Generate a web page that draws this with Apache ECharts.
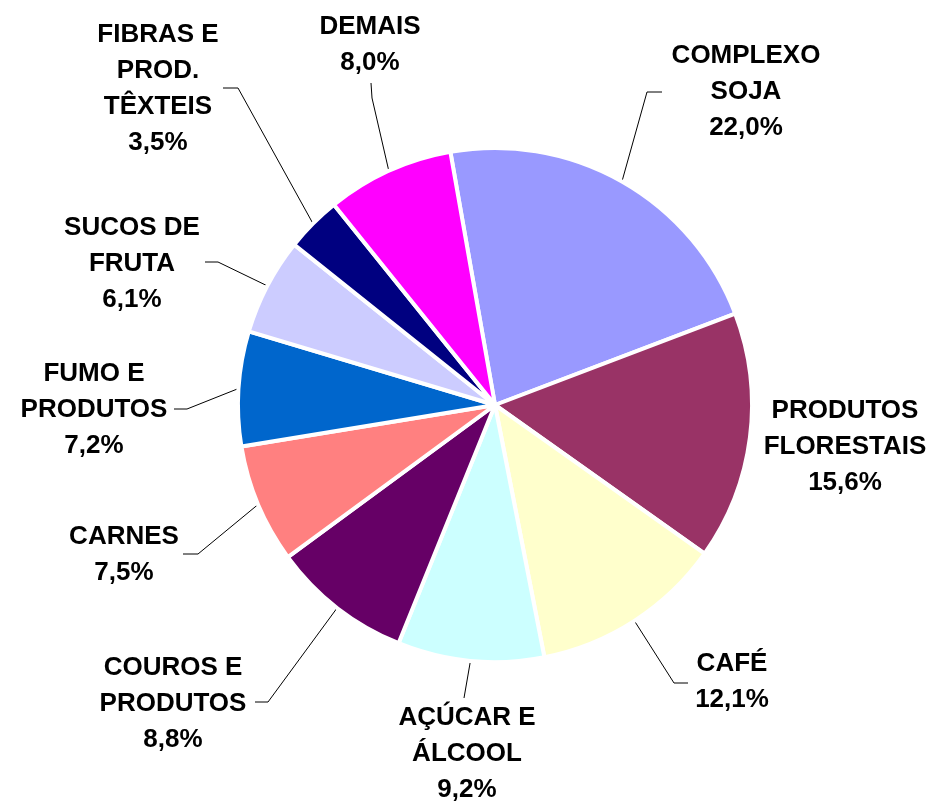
<!DOCTYPE html>
<html><head><meta charset="utf-8">
<script src="https://cdn.jsdelivr.net/npm/echarts@6/dist/echarts.min.js"></script>
<style>html,body{margin:0;padding:0;background:#fff}#c{width:932px;height:803px}</style>
</head><body><div id="c"></div>
<script>
// ---- data ----
const categories = ['COMPLEXO\nSOJA','PRODUTOS\nFLORESTAIS','CAFÉ','AÇÚCAR E\nÁLCOOL','COUROS E\nPRODUTOS','CARNES','FUMO E\nPRODUTOS','SUCOS DE\nFRUTA','FIBRAS E\nPROD.\nTÊXTEIS','DEMAIS'];
const values = [22.0, 15.6, 12.1, 9.2, 8.8, 7.5, 7.2, 6.1, 3.5, 8.0];
// ---- styles / layout (not data) ----
const colors = ['#9999FF','#993366','#FFFFCC','#CCFFFF','#660066','#FF8080','#0066CC','#CCCCFF','#000080','#FF00FF'];
const labelCenters = [[746,92],[845,447],[732,682],[467,754],[173,704],[124,555],[94,410],[132,264],[158,89],[370,45]];
const leaderPaths = [
  [[647,92],[662,92]], null, [[674,683],[688,683]], [[464,698]],
  [[268,702],[255,702]], [[198,554],[183,554]], [[187,409],[174,409]],
  [[218,262],[205,262]], [[238,88],[223,88]], [[372,98],[371,83]]
];

const chart = echarts.init(document.getElementById('c'));
const seriesData = categories.map((name, i) => {
  const d = { name: name, value: values[i], itemStyle: { color: colors[i] } };
  if (!leaderPaths[i]) d.labelLine = { show: false };
  return d;
});
chart.setOption({
  animation: false,
  backgroundColor: '#fff',
  series: [{
    type: 'pie',
    center: [495, 405],
    radius: 257,
    startAngle: 100,
    clockwise: true,
    avoidLabelOverlap: false,
    itemStyle: { borderColor: '#fff', borderWidth: 4 },
    emphasis: { disabled: true },
    label: {
      show: true,
      position: 'outside',
      color: '#000',
      fontFamily: 'Liberation Sans, Arial, sans-serif',
      fontWeight: 'bold',
      fontSize: 26,
      lineHeight: 36,
      formatter: p => p.name + '\n' + p.value.toFixed(1).replace('.', ',') + '%'
    },
    labelLine: { show: true, length: 20, length2: 10, lineStyle: { color: '#000', width: 1 } },
    labelLayout: function (p) {
      const i = p.dataIndex;
      const c = labelCenters[i];
      const res = { x: c[0], y: c[1], align: 'center', verticalAlign: 'middle' };
      if (leaderPaths[i] && p.labelLinePoints) {
        res.labelLinePoints = [p.labelLinePoints[0]].concat(leaderPaths[i]);
      }
      return res;
    },
    data: seriesData
  }]
});
</script>
</body></html>
